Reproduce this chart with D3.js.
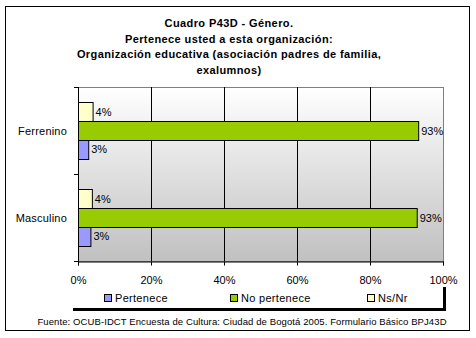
<!DOCTYPE html>
<html>
<head>
<meta charset="utf-8">
<script src="https://cdn.jsdelivr.net/npm/d3@7"></script>
<style>
  body { margin: 0; background: #fff; }
  svg text { font-family: "Liberation Sans", Arial, sans-serif; fill: #000; }
</style>
</head>
<body>
<div id="chart"></div>
<script>
// categories and series, one value per category (percent)
var categories = ["Ferrenino", "Masculino"];
var series = ["Pertenece", "No pertenece", "Ns/Nr"];
var pertenece = [2.8, 3.4];
var noPertenece = [93.2, 92.8];
var nsNr = [4.0, 3.8];
var xTicks = [0, 20, 40, 60, 80, 100];
var colors = ["#9999ff", "#99cc00", "#ffffcc"];
var titleLines = [
  "Cuadro P43D - Género.",
  "Pertenece usted a esta organización:",
  "Organización educativa (asociación padres de familia,",
  "exalumnos)"
];
var source = "Fuente: OCUB-IDCT Encuesta de Cultura: Ciudad de Bogotá 2005. Formulario Básico BPJ43D";

var width = 476, height = 338;
var plot = { left: 78, top: 87, right: 443, bottom: 261 };

var svg = d3.select("#chart").append("svg")
    .attr("width", width)
    .attr("height", height);

// outer chart frame
svg.append("rect")
    .attr("x", 5.5).attr("y", 6.5)
    .attr("width", 464).attr("height", 324)
    .attr("fill", "#fff")
    .attr("stroke", "#000");

// title
svg.append("g").selectAll("text")
    .data(titleLines)
  .enter().append("text")
    .attr("x", 229)
    .attr("y", function(d, i) { return 27 + i * 15.7; })
    .attr("text-anchor", "middle")
    .style("font-size", "11px")
    .style("font-weight", "bold")
    .style("letter-spacing", "0.4px")
    .text(function(d) { return d; });

var x = d3.scaleLinear().domain([0, 100]).range([plot.left, plot.right]);
var y0 = d3.scaleBand().domain(categories).range([plot.top, plot.bottom]);
// Excel draws the last series on top, so reverse the order inside a group
var y1 = d3.scaleBand().domain(series.slice().reverse())
    .range([0, y0.bandwidth()])
    .paddingInner(0).paddingOuter(0.79);

// plot background gradient
var grad = svg.append("defs").append("linearGradient")
    .attr("id", "bg").attr("x1", 0).attr("y1", 0).attr("x2", 0).attr("y2", 1);
grad.append("stop").attr("offset", "0%").attr("stop-color", "#ffffff");
grad.append("stop").attr("offset", "100%").attr("stop-color", "#c0c0c0");

svg.append("rect")
    .attr("x", plot.left + 0.5).attr("y", plot.top + 0.5)
    .attr("width", plot.right - plot.left).attr("height", plot.bottom - plot.top)
    .attr("fill", "url(#bg)")
    .attr("stroke", "#808080");

// vertical gridlines
svg.append("g").selectAll("line")
    .data(xTicks.filter(function(d) { return d > 0 && d < 100; }))
  .enter().append("line")
    .attr("x1", function(d) { return Math.round(x(d)) + 0.5; })
    .attr("x2", function(d) { return Math.round(x(d)) + 0.5; })
    .attr("y1", plot.top)
    .attr("y2", plot.bottom)
    .attr("stroke", "#000");

// bars
var rows = categories.map(function(c, i) {
  return { cat: c, values: [pertenece[i], noPertenece[i], nsNr[i]] };
});

var group = svg.append("g").selectAll("g")
    .data(rows)
  .enter().append("g")
    .attr("transform", function(d) { return "translate(0," + y0(d.cat) + ")"; });

var cells = group.selectAll("g")
    .data(function(d) {
      return d.values.map(function(v, j) { return { key: series[j], value: v, idx: j }; });
    })
  .enter().append("g");

cells.append("rect")
    .attr("x", x(0) + 0.5)
    .attr("y", function(d) { return Math.round(y1(d.key)) + 0.5; })
    .attr("width", function(d) { return x(d.value) - x(0); })
    .attr("height", Math.round(y1.bandwidth()))
    .attr("fill", function(d) { return colors[d.idx]; })
    .attr("stroke", "#000");

cells.append("text")
    .attr("x", function(d) { return x(d.value) + 3; })
    .attr("y", function(d) { return y1(d.key) + y1.bandwidth() / 2 + 4; })
    .style("font-size", "11px")
    .text(function(d) { return d3.format(".0f")(d.value) + "%"; });

// category axis
var yAxis = svg.append("g");
yAxis.append("line")
    .attr("x1", plot.left + 0.5).attr("x2", plot.left + 0.5)
    .attr("y1", plot.top).attr("y2", plot.bottom + 1)
    .attr("stroke", "#000");
yAxis.selectAll("line.tick")
    .data(categories.concat(["end"]))
  .enter().append("line")
    .attr("class", "tick")
    .attr("x1", plot.left - 4).attr("x2", plot.left)
    .attr("y1", function(d) { return (d === "end" ? plot.bottom : y0(d)) + 0.5; })
    .attr("y2", function(d) { return (d === "end" ? plot.bottom : y0(d)) + 0.5; })
    .attr("stroke", "#000");
yAxis.selectAll("text")
    .data(categories)
  .enter().append("text")
    .attr("x", plot.left - 11)
    .attr("y", function(d) { return y0(d) + y0.bandwidth() / 2 + 4; })
    .attr("text-anchor", "end")
    .style("font-size", "11px")
    .style("letter-spacing", "0.2px")
    .text(function(d) { return d; });

// value axis
var xAxis = svg.append("g")
    .attr("transform", "translate(0," + (plot.bottom + 0.5) + ")")
    .call(d3.axisBottom(x)
      .tickValues(xTicks)
      .tickFormat(function(d) { return d + "%"; })
      .tickSize(4)
      .tickPadding(11));
xAxis.select(".domain").attr("stroke", "#000");
xAxis.selectAll(".tick line").attr("stroke", "#000");
xAxis.selectAll(".tick text").style("font-size", "11px").attr("font-family", null);

// legend box with shadow
var legend = svg.append("g");
legend.append("rect")
    .attr("x", 73).attr("y", 287)
    .attr("width", 373).attr("height", 24)
    .attr("fill", "#000");
legend.append("rect")
    .attr("x", 70).attr("y", 284)
    .attr("width", 373).attr("height", 24)
    .attr("fill", "#fff");

var legendX = [104, 230, 367];
var item = legend.selectAll("g")
    .data(series)
  .enter().append("g")
    .attr("transform", function(d, i) { return "translate(" + legendX[i] + ",294)"; });
item.append("rect")
    .attr("x", 0.5).attr("y", 0.5)
    .attr("width", 7).attr("height", 7)
    .attr("fill", function(d, i) { return colors[i]; })
    .attr("stroke", "#000");
item.append("text")
    .attr("x", 11).attr("y", 8)
    .style("font-size", "11px")
    .style("letter-spacing", "0.3px")
    .text(function(d) { return d; });

// source note
svg.append("text")
    .attr("x", 242).attr("y", 325)
    .attr("text-anchor", "middle")
    .style("font-size", "9.5px")
    .style("letter-spacing", "0.1px")
    .text(source);
</script>
</body>
</html>
